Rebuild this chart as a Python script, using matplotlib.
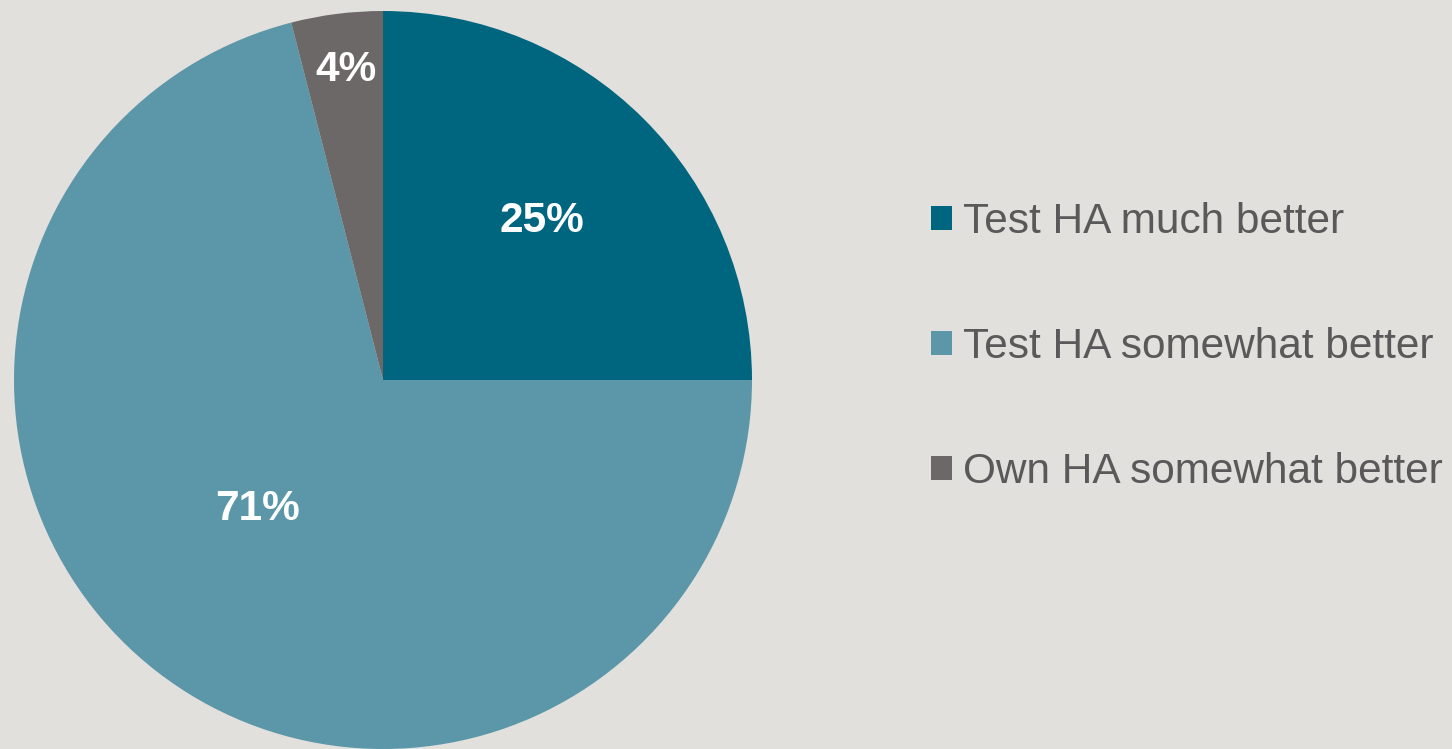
import matplotlib.pyplot as plt
from matplotlib.patches import Patch

categories = ["Test HA much better", "Test HA somewhat better", "Own HA somewhat better"]
shares = [25, 71, 4]
colors = ["#006680", "#5B97A8", "#6D6868"]
# label anchor points inside the pie (axes data units, pie radius = 1)
label_pos = [(0.43, 0.43), (-0.34, -0.35), (-0.10, 0.84)]

bg = "#E2E0DC"
text_gray = "#595959"

plt.rcParams["font.family"] = ["Liberation Sans", "DejaVu Sans"]

W, H = 1452, 749
fig = plt.figure(figsize=(W / 100, H / 100), dpi=100, facecolor=bg)

# pie centred at (383, 380) px with radius 369 px
cx, cy, r = 383, 380, 369
ax = fig.add_axes([(cx - r) / W, (H - cy - r) / H, 2 * r / W, 2 * r / H])
ax.set_facecolor(bg)

ax.pie(
    shares,
    colors=colors,
    startangle=90,
    counterclock=False,
    radius=1,
    wedgeprops={"linewidth": 0},
)
ax.set_xlim(-1, 1)
ax.set_ylim(-1, 1)
ax.set_aspect("equal")
ax.axis("off")

for val, (x, y) in zip(shares, label_pos):
    ax.text(x, y, f"{val}%", ha="center", va="center", color="white",
            fontsize=30.5, fontweight="bold")

handles = [Patch(facecolor=c, edgecolor="none", label=l) for c, l in zip(colors, categories)]
fig.legend(
    handles=handles,
    loc="center left",
    bbox_to_anchor=(931 / W, (H - 347) / H),
    frameon=False,
    fontsize=30.5,
    labelcolor=text_gray,
    handlelength=0.5,
    handleheight=0.5,
    handletextpad=0.25,
    labelspacing=2.0,
    borderpad=0,
    borderaxespad=0,
)

fig.savefig("out.png", dpi=100, facecolor=bg)
